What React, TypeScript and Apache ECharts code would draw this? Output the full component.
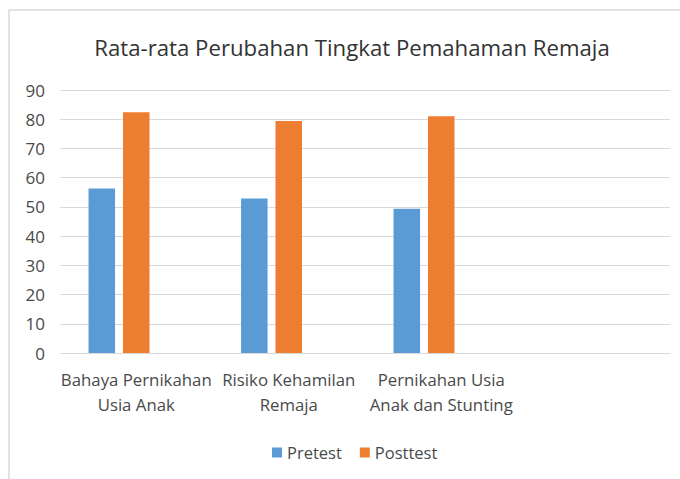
import React, { useEffect, useRef } from "react";
import * as echarts from "echarts";

const title = "Rata-rata Perubahan Tingkat Pemahaman Remaja";
const categories = [
  "Bahaya Pernikahan\nUsia Anak",
  "Risiko Kehamilan\nRemaja",
  "Pernikahan Usia\nAnak dan Stunting",
  "",
];
const pretest = [56.3, 52.9, 49.4, null];
const posttest = [82.4, 79.4, 81.0, null];
const series3: (number | null)[] = [null, null, null, null];
const yTicks = { min: 0, max: 90, interval: 10 };

const FONT = "'Open Sans', 'Noto Sans', sans-serif";
const TEXT = "#4a4a4a";

export default function App() {
  const ref = useRef<HTMLDivElement>(null);
  useEffect(() => {
    if (!ref.current) return;
    const chart = echarts.init(ref.current, undefined, { renderer: "svg" });
    chart.setOption({
      animation: false,
      backgroundColor: "#ffffff",
      textStyle: { fontFamily: FONT, color: TEXT },
      title: {
        text: title,
        left: 347,
        textAlign: "center",
        top: 31,
        textStyle: { fontFamily: FONT, fontSize: 22.2, fontWeight: "normal", color: "#333333" },
      },
      graphic: [
        {
          type: "rect",
          shape: { x: 9, y: 10, width: 700, height: 500 },
          style: { fill: "none", stroke: "#d9d9d9", lineWidth: 1.5 },
          silent: true,
        },
      ],
      legend: {
        data: ["Pretest", "Posttest"],
        left: 267,
        top: 439,
        itemWidth: 10,
        itemHeight: 10,
        itemGap: 18,
        icon: "rect",
        textStyle: { fontFamily: FONT, fontSize: 16.5, color: TEXT },
      },
      grid: { left: 60, right: 10, top: 90, bottom: 126, containLabel: false },
      xAxis: {
        type: "category",
        data: categories,
        axisLine: { lineStyle: { color: "#d9d9d9", width: 1 } },
        axisTick: { show: false },
        axisLabel: {
          interval: 0,
          margin: 14,
          lineHeight: 25,
          fontFamily: FONT,
          fontSize: 16.8,
          color: TEXT,
        },
      },
      yAxis: {
        type: "value",
        min: yTicks.min,
        max: yTicks.max,
        interval: yTicks.interval,
        axisLine: { show: false },
        axisTick: { show: false },
        splitLine: { lineStyle: { color: "#d9d9d9", width: 1 } },
        axisLabel: { margin: 15, fontFamily: FONT, fontSize: 17, color: TEXT },
      },
      series: [
        { name: "Pretest", type: "bar", data: pretest, barWidth: 26.5, barGap: "30%", itemStyle: { color: "#5b9bd5" } },
        { name: "Posttest", type: "bar", data: posttest, barWidth: 26.5, barGap: "30%", itemStyle: { color: "#ed7d31" } },
        { name: "Series3", type: "bar", data: series3, barWidth: 26.5, barGap: "30%", itemStyle: { color: "#a5a5a5" } },
      ],
    });
    return () => chart.dispose();
  }, []);
  return (
    <div
      ref={ref}
      style={{ position: "fixed", left: 0, top: 0, width: 680, height: 479 }}
    />
  );
}
